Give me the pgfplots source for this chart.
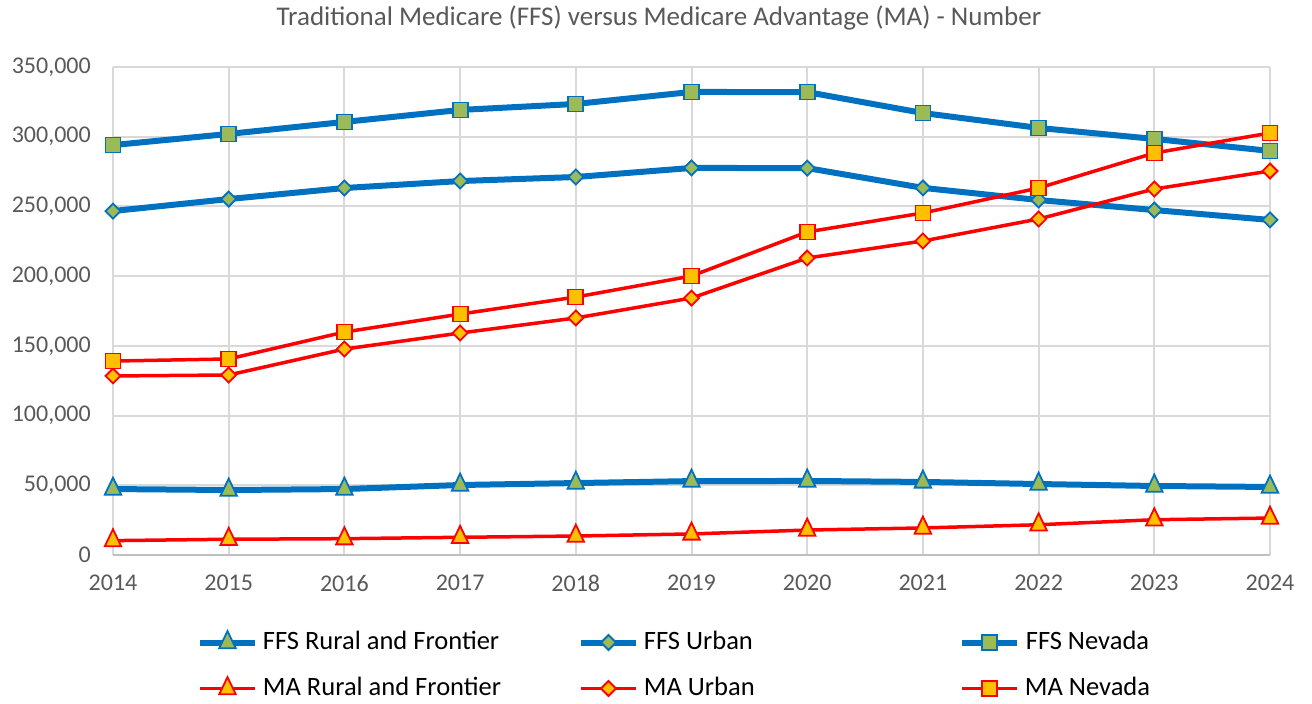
\documentclass[border=0pt]{standalone}
\usepackage{pgfplots}
\pgfplotsset{compat=1.18}
\usepackage{fontspec}
\setmainfont{Carlito}
\definecolor{ffsblue}{HTML}{0070C0}
\definecolor{ffsfill}{HTML}{9BBB59}
\definecolor{mafill}{HTML}{FFC000}
\definecolor{mared}{HTML}{FF0000}
\definecolor{gridgray}{HTML}{D9D9D9}
\definecolor{axisgray}{HTML}{BFBFBF}
\definecolor{txtgray}{HTML}{595959}
\tikzset{
  ffsmark/.style={fill=ffsfill, draw=ffsblue, line width=1.8pt, solid},
  mamark/.style={fill=mafill, draw=mared, line width=1.8pt, solid},
}
\begin{document}
\begin{tikzpicture}[x=1pt,y=1pt]
\path[use as bounding box] (0,0) rectangle (1312,704);
\begin{axis}[
  at={(113pt,149pt)}, anchor=south west,
  width=1157pt, height=488pt, scale only axis,
  xmin=2014, xmax=2024, ymin=0, ymax=350000,
  xtick={2014,2015,2016,2017,2018,2019,2020,2021,2022,2023,2024},
  xticklabels={2014,2015,2016,2017,2018,2019,2020,2021,2022,2023,2024},
  ytick={0,50000,100000,150000,200000,250000,300000,350000},
  yticklabels={0,{50,000},{100,000},{150,000},{200,000},{250,000},{300,000},{350,000}},
  scaled ticks=false,
  tick label style={font=\fontsize{24}{28}\selectfont, text=txtgray},
  xticklabel style={inner sep=0pt, anchor=north, yshift=-20pt},
  yticklabel style={inner sep=0pt, anchor=east, xshift=-22pt},
  major tick length=0pt,
  axis line style={draw=none},
  grid=major, grid style={gridgray, line width=2pt},
  extra y ticks={0}, extra y tick labels={},
  extra y tick style={grid style={axisgray, line width=2pt}},
  clip=false,
  legend columns=3,
  legend image code/.code={\draw[mark repeat=2,mark phase=2,#1] plot coordinates {(0pt,0pt) (27.5pt,0pt) (55pt,0pt)};},
  legend style={at={(0.07692,0)}, anchor=north west, yshift=-76pt, xshift=-5pt,
    draw=none, fill=none, inner sep=0pt, outer sep=0pt, row sep=23pt, column sep=0pt,
    font=\fontsize{26.5}{30}\selectfont,
    nodes={inner xsep=5pt, inner ysep=0pt, text height=18pt, text depth=5pt}},
  ffs/.style={ffsblue, line width=6pt},
  ma/.style={mared, line width=3.5pt},
]
% FFS Rural and Frontier
\addplot[ffs, mark=triangle*, mark size=9.5pt, mark options={ffsmark, yscale=1.2}] coordinates {
(2014,47300) (2015,46600) (2016,47300) (2017,50200) (2018,51600) (2019,53000)
(2020,53100) (2021,52400) (2022,50900) (2023,49500) (2024,48800)};
\addlegendentry{\makebox[310pt][l]{FFS Rural and Frontier}}
% FFS Urban
\addplot[ffs, mark=square*, mark size=5.3pt, mark options={ffsmark, rotate=45}] coordinates {
(2014,246700) (2015,255300) (2016,263200) (2017,268200) (2018,271100) (2019,277600)
(2020,277500) (2021,263300) (2022,254600) (2023,247400) (2024,240300)};
\addlegendentry{\makebox[310pt][l]{FFS Urban}}
% FFS Nevada
\addplot[ffs, mark=square*, mark size=7.5pt, mark options={ffsmark}] coordinates {
(2014,294000) (2015,302000) (2016,310600) (2017,319200) (2018,323500) (2019,332100)
(2020,332000) (2021,317000) (2022,306300) (2023,298400) (2024,289800)};
\addlegendentry{FFS Nevada}
% MA Rural and Frontier
\addplot[ma, mark=triangle*, mark size=9.5pt, mark options={mamark, yscale=1.2}] coordinates {
(2014,10300) (2015,11300) (2016,11700) (2017,12700) (2018,13600) (2019,15100)
(2020,17900) (2021,19400) (2022,21700) (2023,25300) (2024,26500)};
\addlegendentry{\makebox[310pt][l]{MA Rural and Frontier}}
% MA Urban
\addplot[ma, mark=square*, mark size=5.3pt, mark options={mamark, rotate=45}] coordinates {
(2014,128400) (2015,129100) (2016,147700) (2017,159200) (2018,170000) (2019,184300)
(2020,213000) (2021,225200) (2022,241000) (2023,262500) (2024,275400)};
\addlegendentry{\makebox[310pt][l]{MA Urban}}
% MA Nevada
\addplot[ma, mark=square*, mark size=7.5pt, mark options={mamark}] coordinates {
(2014,139100) (2015,140600) (2016,159900) (2017,172800) (2018,185000) (2019,200100)
(2020,231700) (2021,245300) (2022,263200) (2023,288300) (2024,302700)};
\addlegendentry{MA Nevada}
\end{axis}
\node[text=txtgray, font=\fontsize{27}{30}\selectfont, inner sep=0pt] at (659,686) {Traditional Medicare (FFS) versus Medicare Advantage (MA) - Number};
\end{tikzpicture}
\end{document}
